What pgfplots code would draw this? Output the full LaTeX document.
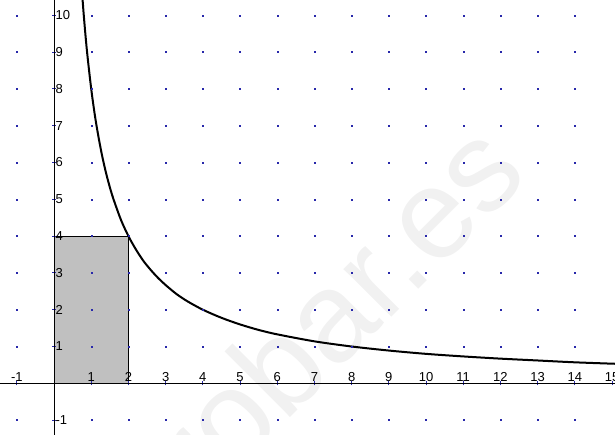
\documentclass[border=0pt]{standalone}
\usepackage{fontspec}
\setmainfont{Liberation Sans}
\usepackage{pgfplots}
\pgfplotsset{compat=1.18}
\definecolor{boxgray}{RGB}{192,192,192}
\definecolor{dotblue}{RGB}{40,40,170}
\definecolor{wm}{RGB}{241,241,241}
\begin{document}
\begin{tikzpicture}
	\begin{axis}[
	scale only axis,
	width=615pt, height=435pt,
	axis lines=middle,
	axis line style={-, black, line width=0.8pt},
	axis on top,
	xmin=-1.452, xmax=15.08,
	ymin=-1.405, ymax=10.416,
	xtick={-1,1,2,3,4,5,6,7,8,9,10,11,12,13,14,15},
	xticklabels={-1,1,2,3,4,5,6,7,8,9,10,11,12,13,14,15},
	ytick={-1,1,2,3,4,5,6,7,8,9,10},
	yticklabels={-1,1,2,3,4,5,6,7,8,9,10},
	tick align=center,
	major tick length=4pt,
	tick style={dotblue, line width=0.8pt},
	xticklabel style={anchor=south, font=\fontsize{13}{15}\selectfont},
	yticklabel style={anchor=west, font=\fontsize{13}{15}\selectfont},
	clip=true
	]
	% faint watermark
	\node[rotate=45, anchor=base east, text=wm, font=\fontsize{128}{140}\selectfont]
		at (axis cs:12.89,5.67) {aprobar.es};
	\addplot [fill=boxgray, draw=none] coordinates {(0,0) (0,4) (2,4) (2,0)} \closedcycle;
	\addplot [black, line width=0.8pt] coordinates {(0,4) (2,4) (2,0)};
	\addplot [only marks, mark=square*, mark size=0.5pt, dotblue] coordinates {
	(-1,10) (1,10) (2,10) (3,10) (4,10) (5,10) (6,10) (7,10) (8,10) (9,10) (10,10) (11,10) (12,10) (13,10) (14,10)
	(-1,9) (1,9) (2,9) (3,9) (4,9) (5,9) (6,9) (7,9) (8,9) (9,9) (10,9) (11,9) (12,9) (13,9) (14,9)
	(-1,8) (1,8) (2,8) (3,8) (4,8) (5,8) (6,8) (7,8) (8,8) (9,8) (10,8) (11,8) (12,8) (13,8) (14,8)
	(-1,7) (1,7) (2,7) (3,7) (4,7) (5,7) (6,7) (7,7) (8,7) (9,7) (10,7) (11,7) (12,7) (13,7) (14,7)
	(-1,6) (1,6) (2,6) (3,6) (4,6) (5,6) (6,6) (7,6) (8,6) (9,6) (10,6) (11,6) (12,6) (13,6) (14,6)
	(-1,5) (1,5) (2,5) (3,5) (4,5) (5,5) (6,5) (7,5) (8,5) (9,5) (10,5) (11,5) (12,5) (13,5) (14,5)
	(-1,4) (1,4) (2,4) (3,4) (4,4) (5,4) (6,4) (7,4) (8,4) (9,4) (10,4) (11,4) (12,4) (13,4) (14,4)
	(-1,3) (1,3) (2,3) (3,3) (4,3) (5,3) (6,3) (7,3) (8,3) (9,3) (10,3) (11,3) (12,3) (13,3) (14,3)
	(-1,2) (1,2) (2,2) (3,2) (4,2) (5,2) (6,2) (7,2) (8,2) (9,2) (10,2) (11,2) (12,2) (13,2) (14,2)
	(-1,1) (1,1) (2,1) (3,1) (4,1) (5,1) (6,1) (7,1) (8,1) (9,1) (10,1) (11,1) (12,1) (13,1) (14,1)
	(-1,-1) (1,-1) (2,-1) (3,-1) (4,-1) (5,-1) (6,-1) (7,-1) (8,-1) (9,-1) (10,-1) (11,-1) (12,-1) (13,-1) (14,-1)
	};
	\addplot [smooth, black, line width=2pt] coordinates {
	(0.76, 10.53)
	(0.80, 10.00)
	(0.85, 9.41)
	(0.90, 8.89)
	(1.00, 8.00)
	(1.10, 7.27)
	(1.20, 6.67)
	(1.30, 6.15)
	(1.40, 5.71)
	(1.50, 5.33)
	(1.60, 5.00)
	(1.80, 4.44)
	(2.00, 4.00)
	(2.20, 3.64)
	(2.40, 3.33)
	(2.60, 3.08)
	(2.80, 2.86)
	(3.00, 2.67)
	(3.30, 2.42)
	(3.60, 2.22)
	(4.00, 2.00)
	(4.50, 1.78)
	(5.00, 1.60)
	(5.50, 1.45)
	(6.00, 1.33)
	(7.00, 1.14)
	(8.00, 1.00)
	(9.00, 0.89)
	(10.00, 0.80)
	(11.00, 0.73)
	(12.00, 0.67)
	(13.00, 0.62)
	(14.00, 0.57)
	(15.10, 0.53)
	};
	\coordinate (sw) at (rel axis cs:0,0);
	\coordinate (ne) at (rel axis cs:1,1);
	\end{axis}
	\pgfresetboundingbox
	\useasboundingbox (sw) rectangle (ne);
\end{tikzpicture}
\end{document}
